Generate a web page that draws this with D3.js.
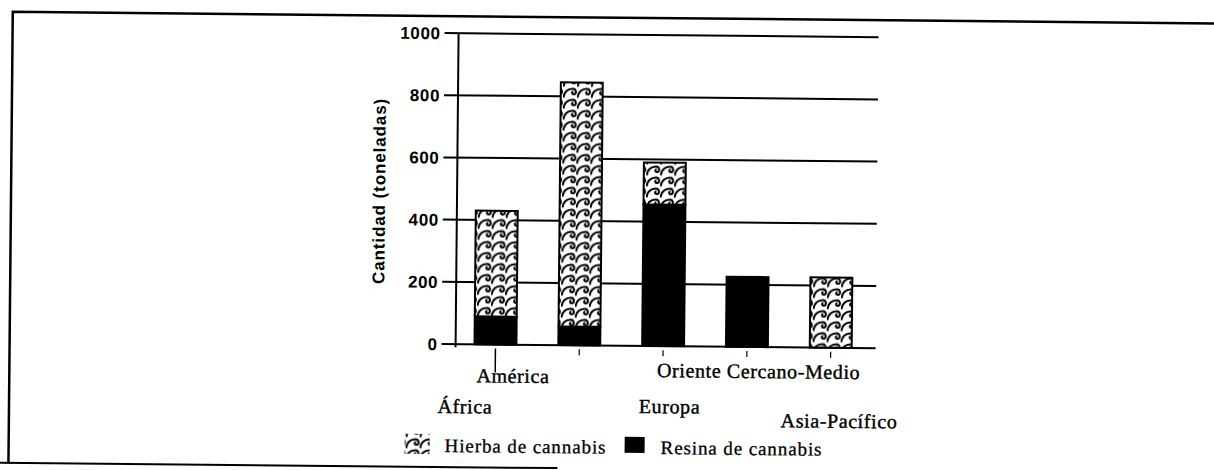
<!DOCTYPE html>
<html>
<head>
<meta charset="utf-8">
<script src="https://cdn.jsdelivr.net/npm/d3@7"></script>
<style>
  body { margin: 0; background: #fff; }
  svg { display: block; }
  .tick-y { font-family: "Liberation Sans", Arial, sans-serif; font-weight: bold; font-size: 17px; letter-spacing: 0.6px; }
  .titulo-y { font-family: "Liberation Sans", Arial, sans-serif; font-weight: bold; font-size: 17px; letter-spacing: 0.9px; }
  .etiqueta { font-family: "Liberation Serif", "Times New Roman", serif; font-size: 20px; letter-spacing: 0.6px; stroke: #000; stroke-width: 0.4px; }
  .leyenda { font-family: "Liberation Serif", "Times New Roman", serif; font-size: 19px; letter-spacing: 0.9px; stroke: #000; stroke-width: 0.3px; }
</style>
</head>
<body>
<div id="grafico"></div>
<script>
// datos (toneladas)
const regiones = ["África", "América", "Europa", "Oriente Cercano-Medio", "Asia-Pacífico"];
const resina = [90, 60, 455, 225, 0];
const hierba = [340, 785, 135, 0, 226];
const ticksY = [0, 200, 400, 600, 800, 1000];
const series = ["Hierba de cannabis", "Resina de cannabis"];

const width = 1214;
const height = 470;

// posicion de cada etiqueta del eje x respecto al centro de la barra (la original es escalonada)
const colocacionEtiquetas = [
    { dx: -30, y: 415 },
    { dx: -66, y: 384 },
    { dx: 7, y: 413 },
    { dx: 12, y: 377 },
    { dx: 9, y: 426 }
];

const svg = d3.select("#grafico").append("svg")
    .attr("width", width)
    .attr("height", height);

// motivo de olas para la hierba
const defs = svg.append("defs");
const ola = defs.append("pattern")
    .attr("id", "olas")
    .attr("patternUnits", "userSpaceOnUse")
    .attr("x", 2)
    .attr("width", 14)
    .attr("height", 11);
ola.append("rect").attr("width", 14).attr("height", 11).attr("fill", "#fff");
ola.append("path")
    .attr("d", "M0.5,10.5 C1,5 5,1.2 10,1.5 C13.5,1.8 14,6.8 10.8,7 C8.6,7.1 8.4,4.4 10.4,4.3")
    .attr("fill", "none")
    .attr("stroke", "#000")
    .attr("stroke-width", 2);

// el escaneo original esta ligeramente girado
const g = svg.append("g")
    .attr("transform", "rotate(0.55, 650, 200)");

// marco
g.append("path")
    .attr("d", "M11,470 L11,18 L1230,18")
    .attr("fill", "none")
    .attr("stroke", "#000")
    .attr("stroke-width", 2.5);
g.append("line")
    .attr("x1", 0).attr("x2", 560)
    .attr("y1", 469).attr("y2", 469)
    .attr("stroke", "#000")
    .attr("stroke-width", 2);

const x = d3.scaleBand()
    .domain(regiones)
    .range([434, 895])
    .paddingInner(0.5)
    .paddingOuter(0.5);

const y = d3.scaleLinear()
    .domain([0, 1000])
    .range([346, 35]);

// lineas de rejilla
g.append("g")
    .selectAll("line")
    .data(ticksY)
    .enter().append("line")
    .attr("x1", 443)
    .attr("x2", 877)
    .attr("y1", d => y(d))
    .attr("y2", d => y(d))
    .attr("stroke", "#000")
    .attr("stroke-width", 2);

// eje y
g.append("line")
    .attr("x1", 457).attr("x2", 457)
    .attr("y1", y(1000)).attr("y2", y(0) + 3)
    .attr("stroke", "#000")
    .attr("stroke-width", 2);

g.append("g")
    .selectAll("text")
    .data(ticksY)
    .enter().append("text")
    .attr("class", "tick-y")
    .attr("x", 439)
    .attr("y", d => y(d))
    .attr("dy", "0.36em")
    .attr("text-anchor", "end")
    .text(d => d);

g.append("text")
    .attr("class", "titulo-y")
    .attr("transform", "translate(385," + ((y(0) + y(1000)) / 2 + 3) + ") rotate(-90)")
    .attr("text-anchor", "middle")
    .text("Cantidad (toneladas)");

// datos apilados
const filas = regiones.map((r, i) => ({ region: r, resina: resina[i], hierba: hierba[i] }));
const pila = d3.stack().keys(["resina", "hierba"])(filas);

const capas = g.append("g")
    .selectAll("g")
    .data(pila)
    .enter().append("g")
    .attr("fill", d => d.key === "resina" ? "#000" : "url(#olas)");

capas.selectAll("rect")
    .data(d => d.filter(p => p[1] - p[0] > 0))
    .enter().append("rect")
    .attr("x", d => x(d.data.region))
    .attr("width", x.bandwidth())
    .attr("y", d => y(d[1]))
    .attr("height", d => y(d[0]) - y(d[1]))
    .attr("stroke", "#000")
    .attr("stroke-width", 2);

// marcas del eje x
g.append("g")
    .selectAll("line")
    .data(regiones)
    .enter().append("line")
    .attr("x1", d => x(d) + x.bandwidth() / 2)
    .attr("x2", d => x(d) + x.bandwidth() / 2)
    .attr("y1", y(0) + 4)
    .attr("y2", (d, i) => i === 0 ? y(0) + 28 : y(0) + 10)
    .attr("stroke", "#000")
    .attr("stroke-width", (d, i) => i === 0 ? 1.5 : 1.2);

g.append("g")
    .selectAll("text")
    .data(regiones)
    .enter().append("text")
    .attr("class", "etiqueta")
    .attr("text-anchor", "middle")
    .attr("x", (d, i) => x(d) + x.bandwidth() / 2 + colocacionEtiquetas[i].dx)
    .attr("y", (d, i) => colocacionEtiquetas[i].y)
    .text(d => d);

// leyenda
const leyenda = g.append("g");
leyenda.append("rect")
    .attr("x", 407).attr("y", 436)
    .attr("width", 25).attr("height", 20)
    .attr("fill", "url(#olas)");
leyenda.append("text")
    .attr("class", "leyenda")
    .attr("x", 447).attr("y", 454)
    .text(series[0]);
leyenda.append("rect")
    .attr("x", 627).attr("y", 437)
    .attr("width", 20).attr("height", 16)
    .attr("fill", "#000");
leyenda.append("text")
    .attr("class", "leyenda")
    .attr("x", 663).attr("y", 454)
    .text(series[1]);
</script>
</body>
</html>
